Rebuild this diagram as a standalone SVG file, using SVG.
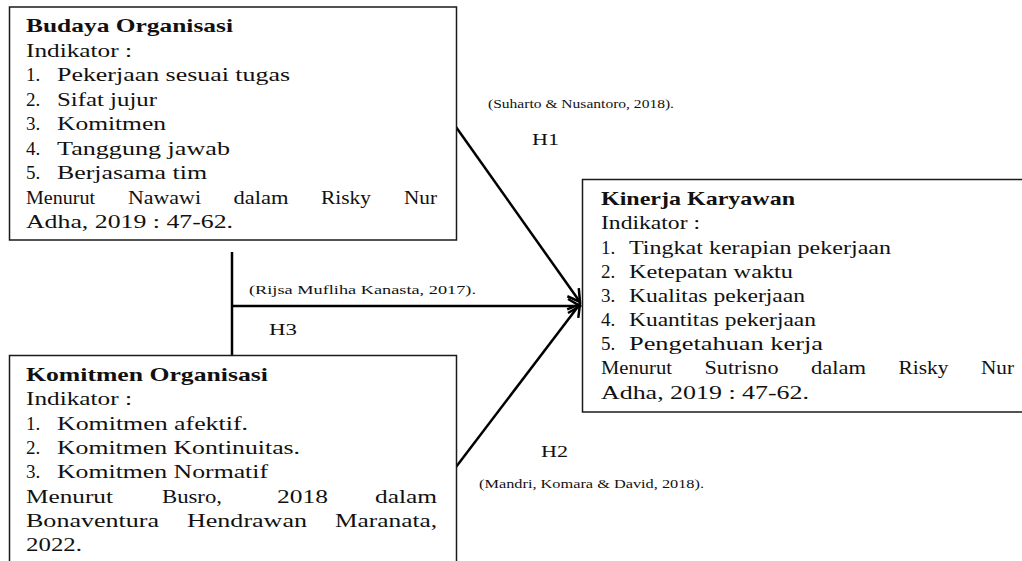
<svg xmlns="http://www.w3.org/2000/svg" width="1022" height="561" viewBox="0 0 1022 561">
<style>
  .box { fill: #ffffff; stroke: #1a1a1a; stroke-width: 1.5; }
  .t { font-family: "Liberation Serif", "Times New Roman", serif; font-size: 19px; fill: #111111; }
  .b { font-weight: bold; }
  .s { font-family: "Liberation Serif", "Times New Roman", serif; font-size: 12.5px; fill: #111111; }
  .h { font-family: "Liberation Serif", "Times New Roman", serif; font-size: 16px; fill: #111111; }
  .conn { stroke: #000000; stroke-width: 2.5; fill: none; }
</style>
<defs>
  <marker id="arrow" viewBox="-14 -10 16 20" markerWidth="16" markerHeight="20" refX="0" refY="0" orient="auto" markerUnits="userSpaceOnUse">
    <path d="M-12,-7 L0,0 L-12,7" fill="none" stroke="#000000" stroke-width="2.5"/>
  </marker>
</defs>
<rect width="1022" height="561" fill="#ffffff"/>

<g id="connectors">
  <line class="conn" x1="232" y1="252" x2="232" y2="356"/>
  <line class="conn" x1="232" y1="306" x2="580" y2="306" marker-end="url(#arrow)"/>
  <line class="conn" x1="456" y1="127" x2="580" y2="302" marker-end="url(#arrow)"/>
  <line class="conn" x1="456" y1="467" x2="580" y2="304" marker-end="url(#arrow)"/>
  <text class="s" x="488" y="108" textLength="186" lengthAdjust="spacingAndGlyphs">(Suharto &amp; Nusantoro, 2018).</text>
  <text class="h" x="532" y="145" textLength="27" lengthAdjust="spacingAndGlyphs">H1</text>
  <text class="s" x="249" y="294" textLength="227" lengthAdjust="spacingAndGlyphs">(Rijsa Mufliha Kanasta, 2017).</text>
  <text class="h" x="269" y="335" textLength="28" lengthAdjust="spacingAndGlyphs">H3</text>
  <text class="h" x="541" y="457" textLength="27" lengthAdjust="spacingAndGlyphs">H2</text>
  <text class="s" x="479" y="488" textLength="225" lengthAdjust="spacingAndGlyphs">(Mandri, Komara &amp; David, 2018).</text>
</g>

<g id="budaya-organisasi">
  <rect class="box" x="9.5" y="7" width="447" height="233"/>
  <text class="t b" x="26" y="32" textLength="207" lengthAdjust="spacingAndGlyphs">Budaya Organisasi</text>
  <text class="t" x="26" y="56.5" textLength="106" lengthAdjust="spacingAndGlyphs">Indikator :</text>
  <text class="t" x="26" y="81">1.</text>
  <text class="t" x="57" y="81" textLength="233" lengthAdjust="spacingAndGlyphs">Pekerjaan sesuai tugas</text>
  <text class="t" x="26" y="105.5">2.</text>
  <text class="t" x="57" y="105.5" textLength="100" lengthAdjust="spacingAndGlyphs">Sifat jujur</text>
  <text class="t" x="26" y="130">3.</text>
  <text class="t" x="57" y="130" textLength="109" lengthAdjust="spacingAndGlyphs">Komitmen</text>
  <text class="t" x="26" y="154.5">4.</text>
  <text class="t" x="57" y="154.5" textLength="173" lengthAdjust="spacingAndGlyphs">Tanggung jawab</text>
  <text class="t" x="26" y="179">5.</text>
  <text class="t" x="57" y="179" textLength="150" lengthAdjust="spacingAndGlyphs">Berjasama tim</text>
  <text class="t" x="26" y="203.5" textLength="69" lengthAdjust="spacingAndGlyphs">Menurut</text>
  <text class="t" x="128" y="203.5" textLength="73" lengthAdjust="spacingAndGlyphs">Nawawi</text>
  <text class="t" x="233.5" y="203.5" textLength="55" lengthAdjust="spacingAndGlyphs">dalam</text>
  <text class="t" x="321" y="203.5" textLength="50" lengthAdjust="spacingAndGlyphs">Risky</text>
  <text class="t" x="404" y="203.5" textLength="33" lengthAdjust="spacingAndGlyphs">Nur</text>
  <text class="t" x="26" y="228" textLength="207" lengthAdjust="spacingAndGlyphs">Adha, 2019 : 47-62.</text>
</g>

<g id="komitmen-organisasi">
  <rect class="box" x="9.5" y="355.5" width="447" height="220"/>
  <text class="t b" x="26" y="381" textLength="242" lengthAdjust="spacingAndGlyphs">Komitmen Organisasi</text>
  <text class="t" x="26" y="405" textLength="106" lengthAdjust="spacingAndGlyphs">Indikator :</text>
  <text class="t" x="26" y="429.5">1.</text>
  <text class="t" x="57" y="429.5" textLength="191" lengthAdjust="spacingAndGlyphs">Komitmen afektif.</text>
  <text class="t" x="26" y="453.5">2.</text>
  <text class="t" x="57" y="453.5" textLength="243" lengthAdjust="spacingAndGlyphs">Komitmen Kontinuitas.</text>
  <text class="t" x="26" y="478">3.</text>
  <text class="t" x="57" y="478" textLength="211" lengthAdjust="spacingAndGlyphs">Komitmen Normatif</text>
  <text class="t" x="26" y="502.5" textLength="87" lengthAdjust="spacingAndGlyphs">Menurut</text>
  <text class="t" x="162" y="502.5" textLength="60" lengthAdjust="spacingAndGlyphs">Busro,</text>
  <text class="t" x="277" y="502.5" textLength="51" lengthAdjust="spacingAndGlyphs">2018</text>
  <text class="t" x="375" y="502.5" textLength="62" lengthAdjust="spacingAndGlyphs">dalam</text>
  <text class="t" x="26" y="526.5" textLength="133" lengthAdjust="spacingAndGlyphs">Bonaventura</text>
  <text class="t" x="187" y="526.5" textLength="120" lengthAdjust="spacingAndGlyphs">Hendrawan</text>
  <text class="t" x="335" y="526.5" textLength="102" lengthAdjust="spacingAndGlyphs">Maranata,</text>
  <text class="t" x="26" y="551" textLength="56" lengthAdjust="spacingAndGlyphs">2022.</text>
</g>

<g id="kinerja-karyawan">
  <rect class="box" x="582.5" y="179.5" width="450" height="232.5"/>
  <text class="t b" x="601" y="205" textLength="194" lengthAdjust="spacingAndGlyphs">Kinerja Karyawan</text>
  <text class="t" x="601" y="229" textLength="99" lengthAdjust="spacingAndGlyphs">Indikator :</text>
  <text class="t" x="601" y="253.5">1.</text>
  <text class="t" x="629" y="253.5" textLength="262" lengthAdjust="spacingAndGlyphs">Tingkat kerapian pekerjaan</text>
  <text class="t" x="601" y="277.5">2.</text>
  <text class="t" x="629" y="277.5" textLength="164" lengthAdjust="spacingAndGlyphs">Ketepatan waktu</text>
  <text class="t" x="601" y="302">3.</text>
  <text class="t" x="629" y="302" textLength="176" lengthAdjust="spacingAndGlyphs">Kualitas pekerjaan</text>
  <text class="t" x="601" y="326">4.</text>
  <text class="t" x="629" y="326" textLength="187" lengthAdjust="spacingAndGlyphs">Kuantitas pekerjaan</text>
  <text class="t" x="601" y="350">5.</text>
  <text class="t" x="629" y="350" textLength="194" lengthAdjust="spacingAndGlyphs">Pengetahuan kerja</text>
  <text class="t" x="601" y="374" textLength="71" lengthAdjust="spacingAndGlyphs">Menurut</text>
  <text class="t" x="704.5" y="374" textLength="74" lengthAdjust="spacingAndGlyphs">Sutrisno</text>
  <text class="t" x="811" y="374" textLength="55" lengthAdjust="spacingAndGlyphs">dalam</text>
  <text class="t" x="898.5" y="374" textLength="50" lengthAdjust="spacingAndGlyphs">Risky</text>
  <text class="t" x="981" y="374" textLength="33" lengthAdjust="spacingAndGlyphs">Nur</text>
  <text class="t" x="601" y="398.5" textLength="208" lengthAdjust="spacingAndGlyphs">Adha, 2019 : 47-62.</text>
</g>
</svg>
